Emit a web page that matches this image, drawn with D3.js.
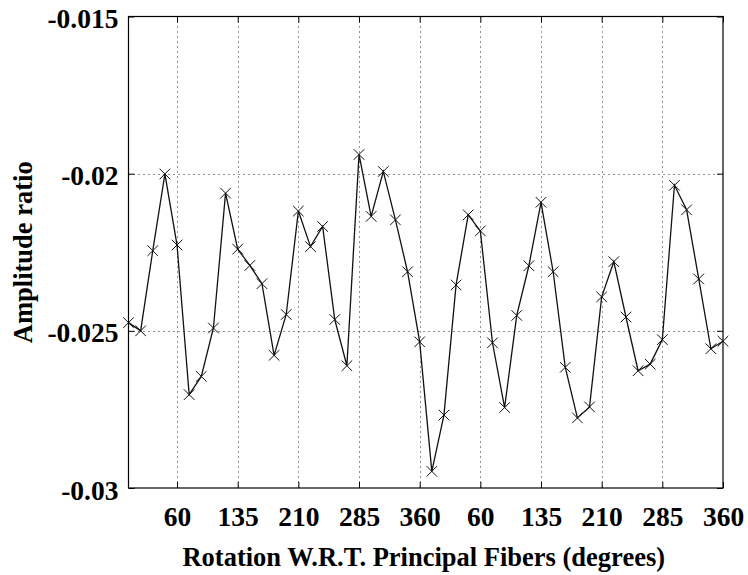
<!DOCTYPE html>
<html>
<head>
<meta charset="utf-8">
<script src="https://cdn.jsdelivr.net/npm/d3@7"></script>
<style>
  html, body { margin: 0; padding: 0; background: #fff; }
  svg { display: block; }
  svg text { font-family: "Liberation Serif", Tinos, "Times New Roman", "DejaVu Serif", serif !important; font-weight: bold; fill: #000; }
</style>
</head>
<body>
<svg id="chart" width="748" height="575"></svg>
<script>
// ---- data ----
const amplitudeRatio = [
  -0.02474, -0.02500, -0.02245, -0.02001, -0.02227, -0.02703, -0.02645, -0.02491, -0.02062, -0.02240,
  -0.02292, -0.02350, -0.02578, -0.02448, -0.02119, -0.02232, -0.02168, -0.02464, -0.02611, -0.01939,
  -0.02136, -0.01993, -0.02147, -0.02312, -0.02535, -0.02947, -0.02768, -0.02354, -0.02131, -0.02182,
  -0.02538, -0.02744, -0.02451, -0.02293, -0.02091, -0.02312, -0.02616, -0.02777, -0.02742, -0.02392,
  -0.02280, -0.02456, -0.02627, -0.02606, -0.02528, -0.02037, -0.02115, -0.02335, -0.02557, -0.02533
];
const xTickPositions = [5, 10, 15, 20, 25, 30, 35, 40, 45, 50];
const xTickLabels = ["60", "135", "210", "285", "360", "60", "135", "210", "285", "360"];
const yTickValues = [-0.03, -0.025, -0.02, -0.015];
const yTickLabels = ["-0.03", "-0.025", "-0.02", "-0.015"];
const xTitle = "Rotation W.R.T. Principal Fibers (degrees)";
const yTitle = "Amplitude ratio";

// ---- layout ----
const L = 128.5, R = 723, T = 16.5, B = 488;
const FONT = "'Liberation Serif', Tinos, 'Times New Roman', 'DejaVu Serif', serif";
const TICK_FS = 27.5, TITLE_FS = 26.5;
const svg = d3.select("#chart");

const x = d3.scaleLinear().domain([1, amplitudeRatio.length]).range([L, R]);
const y = d3.scaleLinear().domain([-0.03, -0.015]).range([B, T]);

const pts = amplitudeRatio.map((v, i) => ({ i: i + 1, v }));

// grid
const grid = svg.append("g").attr("stroke", "#222").attr("stroke-width", 1)
  .attr("stroke-dasharray", "1,4");
grid.selectAll("line.vx").data(xTickPositions.filter(p => x(p) < R - 1)).join("line")
  .attr("x1", d => Math.round(x(d)) + 0.5).attr("x2", d => Math.round(x(d)) + 0.5)
  .attr("y1", T).attr("y2", B);
grid.selectAll("line.hy").data(yTickValues.filter(v => y(v) > T + 1 && y(v) < B - 1)).join("line")
  .attr("y1", d => Math.round(y(d)) + 0.5).attr("y2", d => Math.round(y(d)) + 0.5)
  .attr("x1", L).attr("x2", R);

// axes (ticks inside) using d3 axes
const tickLen = 6;
const xAxisB = d3.axisBottom(x).tickValues(xTickPositions).tickFormat((d, i) => xTickLabels[i])
  .tickSizeInner(-tickLen).tickSizeOuter(0).tickPadding(18);
const gxB = svg.append("g").attr("transform", `translate(0,${B})`).call(xAxisB)
  .attr("font-family", FONT);
gxB.select(".domain").remove();
gxB.selectAll("text").attr("font-size", TICK_FS).attr("font-weight", "bold").attr("fill", "#000");
gxB.selectAll("line").attr("stroke", "#000");

const xAxisT = d3.axisTop(x).tickValues(xTickPositions).tickFormat("")
  .tickSizeInner(-tickLen).tickSizeOuter(0);
const gxT = svg.append("g").attr("transform", `translate(0,${T})`).call(xAxisT);
gxT.select(".domain").remove();
gxT.selectAll("line").attr("stroke", "#000");

const yAxisL = d3.axisLeft(y).tickValues(yTickValues).tickFormat((d, i) => yTickLabels[i])
  .tickSizeInner(-tickLen).tickSizeOuter(0).tickPadding(10);
const gyL = svg.append("g").attr("transform", `translate(${L},0)`).call(yAxisL)
  .attr("font-family", FONT);
gyL.select(".domain").remove();
gyL.selectAll("text").attr("font-size", TICK_FS).attr("font-weight", "bold").attr("fill", "#000").attr("dy", "0.4em");
gyL.selectAll("line").attr("stroke", "#000");

const yAxisR = d3.axisRight(y).tickValues(yTickValues).tickFormat("")
  .tickSizeInner(-tickLen).tickSizeOuter(0);
const gyR = svg.append("g").attr("transform", `translate(${R},0)`).call(yAxisR);
gyR.select(".domain").remove();
gyR.selectAll("line").attr("stroke", "#000");

// box
svg.append("rect").attr("x", L).attr("y", T).attr("width", R - L).attr("height", B - T)
  .attr("fill", "none").attr("stroke", "#000").attr("stroke-width", 1.2);

// line
const line = d3.line().x(d => x(d.i)).y(d => y(d.v));
svg.append("path").datum(pts).attr("d", line)
  .attr("fill", "none").attr("stroke", "#111").attr("stroke-width", 1.3);

// markers
const m = 5.3;
svg.append("g").selectAll("path").data(pts).join("path")
  .attr("d", d => {
    const cx = x(d.i), cy = y(d.v);
    return `M${cx - m},${cy - m}L${cx + m},${cy + m}M${cx - m},${cy + m}L${cx + m},${cy - m}`;
  })
  .attr("stroke", "#111").attr("stroke-width", 1).attr("fill", "none");

// titles
svg.append("text").attr("x", (L + R) / 2 - 2).attr("y", 566).attr("text-anchor", "middle")
  .attr("font-family", FONT).attr("font-size", TITLE_FS).text(xTitle);
svg.append("text").attr("transform", `translate(32,${(T + B) / 2}) rotate(-90)`)
  .attr("font-family", FONT).attr("text-anchor", "middle").attr("font-size", TITLE_FS).text(yTitle);
</script>
</body>
</html>
